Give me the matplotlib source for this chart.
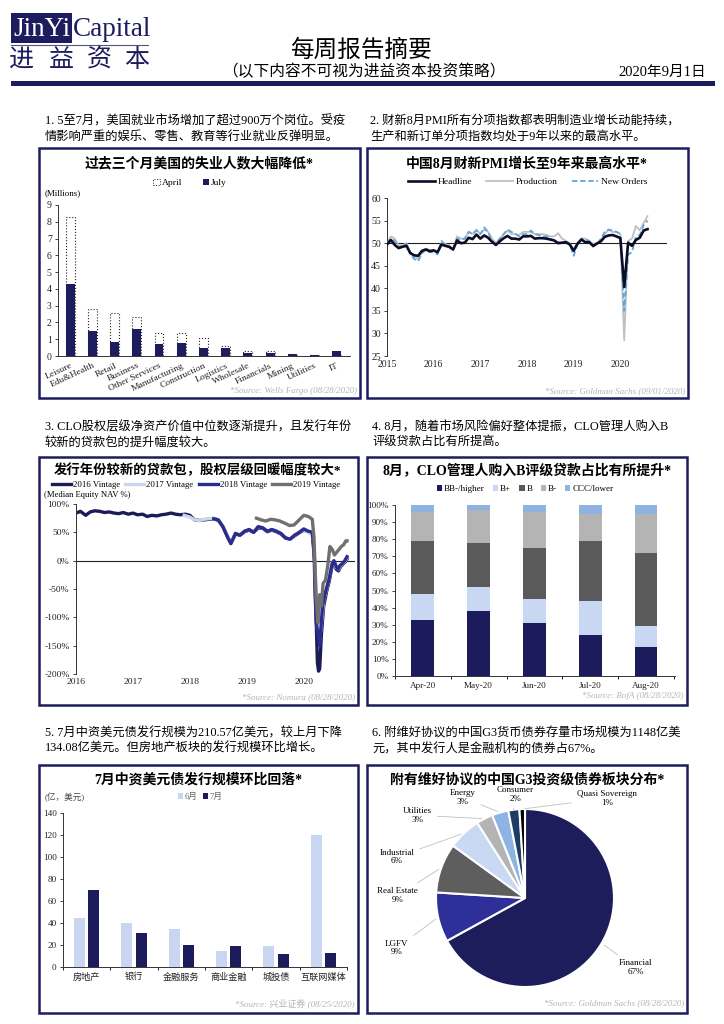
import matplotlib
matplotlib.use('Agg')
import matplotlib.pyplot as plt
from matplotlib.patches import Rectangle, Patch
from matplotlib.lines import Line2D
from matplotlib.ticker import FuncFormatter
import numpy as np

plt.rcParams['font.family'] = ['Liberation Serif', 'Noto Sans CJK SC']
plt.rcParams['axes.unicode_minus'] = False

# ---------------- DATA ----------------
jobs_cats = ['Leisure', 'Edu&Health', 'Retail', 'Business', 'Other Services', 'Manufacturing',
             'Construction', 'Logistics', 'Wholesale', 'Financials', 'Mining', 'Utilities', 'IT']
jobs_april = [8.3, 2.8, 2.55, 2.3, 1.4, 1.4, 1.05, 0.6, 0.3, 0.27, 0.1, 0.05, 0.1]
jobs_july = [4.3, 1.5, 0.85, 1.6, 0.7, 0.8, 0.5, 0.5, 0.2, 0.2, 0.1, 0.04, 0.3]

pmi_start_year = 2015
pmi_headline = [49.7, 50.7, 49.6, 48.9, 49.2, 49.4, 47.8, 47.3, 47.2, 48.3, 48.6, 48.2,
                48.4, 48.0, 49.7, 49.4, 49.2, 48.6, 50.6, 50.0, 50.1, 51.2, 50.9, 51.9,
                51.0, 51.7, 51.2, 50.3, 49.6, 50.4, 51.1, 51.6, 51.0, 51.0, 50.8, 51.5,
                51.5, 51.6, 51.0, 51.1, 51.1, 51.0, 50.8, 50.6, 50.0, 50.1, 50.2, 49.7,
                48.3, 49.9, 50.8, 50.2, 50.2, 49.4, 49.9, 50.4, 51.4, 51.7, 51.8, 51.5,
                51.1, 40.3, 50.1, 49.4, 50.7, 51.2, 52.8, 53.1]
pmi_production = [50.0, 51.5, 51.0, 49.5, 49.5, 50.0, 48.0, 47.0, 46.5, 48.0, 48.8, 48.5,
                  48.5, 47.8, 50.0, 49.8, 49.5, 48.5, 51.5, 51.0, 51.0, 52.5, 52.0, 53.0,
                  52.0, 53.0, 52.5, 51.0, 50.0, 51.0, 52.0, 52.8, 52.0, 52.0, 51.8, 52.5,
                  52.5, 52.5, 52.0, 52.0, 52.0, 51.8, 51.5, 51.5, 52.2, 51.0, 50.5, 50.0,
                  48.5, 50.0, 51.0, 51.0, 50.5, 49.8, 50.0, 50.5, 52.0, 53.0, 52.5, 52.5,
                  52.0, 28.5, 50.5, 51.0, 53.8, 52.8, 54.5, 56.0]
pmi_new_orders = [50.0, 51.0, 50.5, 49.0, 49.5, 49.8, 47.5, 46.5, 46.0, 47.8, 48.5, 48.0,
                  48.0, 47.5, 50.5, 49.5, 49.0, 48.5, 51.0, 50.8, 51.0, 52.5, 52.0, 52.8,
                  52.0, 53.5, 52.5, 50.5, 49.8, 51.0, 52.0, 53.0, 52.5, 52.0, 51.5, 52.0,
                  52.0, 52.8, 52.0, 51.8, 51.5, 51.5, 51.0, 50.5, 50.2, 50.0, 50.3, 49.8,
                  47.2, 49.8, 51.0, 50.8, 50.5, 49.2, 49.8, 51.0, 52.5, 53.0, 52.8, 52.5,
                  52.0, 35.0, 47.5, 48.0, 51.5, 51.8, 54.0, 55.0]

v2016_dates = [2016.00, 2016.08, 2016.17, 2016.25, 2016.33, 2016.42, 2016.50, 2016.58, 2016.67,
               2016.75, 2016.83, 2016.92, 2017.00, 2017.08, 2017.17, 2017.25, 2017.33, 2017.42,
               2017.50, 2017.58, 2017.67, 2017.75, 2017.83, 2017.92, 2018.00, 2018.08, 2018.17,
               2018.25, 2018.33, 2018.42, 2018.50, 2018.58, 2018.67, 2018.72, 2018.80, 2018.88,
               2018.96, 2019.04, 2019.12, 2019.20, 2019.28, 2019.36, 2019.44, 2019.52, 2019.60,
               2019.68, 2019.76, 2019.84, 2019.92, 2020.00, 2020.08, 2020.15, 2020.19, 2020.22,
               2020.24, 2020.26, 2020.28, 2020.31, 2020.35, 2020.40, 2020.45, 2020.50, 2020.53,
               2020.57, 2020.61, 2020.65, 2020.69, 2020.73, 2020.76]
v2016_nav = [84, 87, 80, 86, 88, 87, 85, 86, 84, 83, 85, 82, 84, 81, 82, 78, 80, 79,
             81, 82, 84, 82, 81, 82, 80, 72, 71, 72, 73, 74, 71, 60, 40, 31, 47, 45,
             51, 54, 50, 58, 57, 51, 54, 51, 47, 40, 38, 44, 49, 54, 51, 48, 0, -110,
             -180, -195, -190, -130, -80, -55, -35, -8, -3, -15, -18, -10, -6, -2, 3]
v2017_dates = [2017.90, 2018.00, 2018.08, 2018.17, 2018.25, 2018.33, 2018.42, 2018.50, 2018.58,
               2018.67, 2018.72, 2018.80, 2018.88, 2018.96, 2019.04, 2019.12, 2019.20, 2019.28,
               2019.36, 2019.44, 2019.52, 2019.60, 2019.68, 2019.76, 2019.84, 2019.92, 2020.00,
               2020.08, 2020.15, 2020.18, 2020.21, 2020.24, 2020.28, 2020.31, 2020.35, 2020.40,
               2020.45, 2020.50, 2020.53, 2020.57, 2020.61, 2020.65, 2020.69, 2020.73, 2020.76]
v2017_nav = [80, 77, 72, 71, 73, 74, 75, 72, 61, 41, 32, 49, 46, 52, 55, 51, 60, 58,
             52, 55, 52, 48, 40, 38, 45, 50, 55, 50, 45, 30, -40, -120, -140, -110, -70, -50,
             -30, -4, 0, -12, -15, -8, -5, 0, 5]
v2018_dates = [2018.42, 2018.50, 2018.58, 2018.67, 2018.72, 2018.80, 2018.88, 2018.96, 2019.04,
               2019.12, 2019.20, 2019.28, 2019.36, 2019.44, 2019.52, 2019.60, 2019.68, 2019.76,
               2019.84, 2019.92, 2020.00, 2020.08, 2020.15, 2020.18, 2020.20, 2020.22, 2020.25,
               2020.28, 2020.30, 2020.33, 2020.37, 2020.41, 2020.45, 2020.50, 2020.53, 2020.57,
               2020.60, 2020.64, 2020.68, 2020.72, 2020.76]
v2018_nav = [74, 72, 60, 40, 30, 48, 45, 52, 55, 50, 60, 58, 52, 55, 52, 48, 40, 38,
             45, 50, 56, 52, 50, 20, -60, -110, -130, -150, -120, -80, -60, -45, -30, -5, 0, -10,
             -15, -8, -5, 0, 7]
v2019_dates = [2019.17, 2019.25, 2019.33, 2019.42, 2019.50, 2019.58, 2019.67, 2019.75, 2019.83,
               2019.92, 2020.00, 2020.08, 2020.15, 2020.18, 2020.20, 2020.22, 2020.25, 2020.28,
               2020.31, 2020.34, 2020.38, 2020.42, 2020.46, 2020.50, 2020.54, 2020.58, 2020.62,
               2020.66, 2020.70, 2020.74, 2020.76]
v2019_nav = [75, 72, 70, 73, 72, 70, 66, 62, 63, 72, 80, 78, 73, 40, -20, -70, -110, -60,
             -80, -40, -35, -10, 25, 20, 10, 15, 20, 25, 28, 35, 35]

clo_months = ['Apr-20', 'May-20', 'Jun-20', 'Jul-20', 'Aug-20']
clo_series = ['BB-/higher', 'B+', 'B', 'B-', 'CCC/lower']
bb_higher = [33, 38, 31, 24, 17]
b_plus = [15, 14, 14, 20, 12]
b_mid = [31, 26, 30, 35, 43]
b_minus = [17, 19, 21, 16, 23]
ccc_lower = [4, 3, 4, 5, 5]

usd_cats = ['房地产', '银行', '金融服务', '商业金融', '城投债', '互联网媒体']
usd_june = [45, 40, 35, 15, 19, 120]
usd_july = [70, 31, 20, 19, 12, 13]

pie_labels = ['Financial', 'LGFV', 'Real Estate', 'Industrial', 'Utilities', 'Energy',
              'Consumer', 'Quasi Sovereign']
pie_vals = [67, 9, 9, 6, 3, 3, 2, 1]

# ---------------- LAYOUT HELPERS ----------------
W, H = 724, 1024
fig = plt.figure(figsize=(W / 100, H / 100), dpi=100)
fig.patch.set_facecolor('white')

NAVY = '#1c1c5e'
SRC = '#b5b5b5'


def ax_at(l, t, r, b):
    return fig.add_axes([l / W, 1 - b / H, (r - l) / W, (b - t) / H])


def T(x, y, s, **kw):
    kw.setdefault('va', 'center')
    return fig.text(x / W, 1 - y / H, s, **kw)


def box(l, t, r, b):
    fig.patches.append(Rectangle((l / W, 1 - b / H), (r - l) / W, (b - t) / H,
                                 transform=fig.transFigure, fill=False,
                                 edgecolor=NAVY, linewidth=1.8, zorder=0))


def style_axes(ax, fs=7):
    for s in ['top', 'right']:
        ax.spines[s].set_visible(False)
    for s in ['left', 'bottom']:
        ax.spines[s].set_linewidth(0.7)
        ax.spines[s].set_color('#333333')
    ax.tick_params(labelsize=fs, length=2.5, width=0.6, colors='#222222', pad=2)


# ---------------- HEADER ----------------
fig.patches.append(Rectangle((11 / W, 1 - 43 / H), 61 / W, 30 / H, transform=fig.transFigure,
                             facecolor=NAVY, edgecolor='none'))
T(41.5, 29, 'JinYi', ha='center', color='white', fontsize=19.5, family='Liberation Serif')
T(73, 29, 'Capital', ha='left', color=NAVY, fontsize=19.5, family='Liberation Serif')
fig.add_artist(Line2D([11 / W, 148 / W], [1 - 44.5 / H, 1 - 44.5 / H], color='#555577', lw=0.8))
for cx, ch in zip([22, 61, 99, 137], '进益资本'):
    T(cx, 60, ch, ha='center', color=NAVY, fontsize=18, family=['Noto Sans CJK SC'])
T(361, 51, '每周报告摘要', ha='center', fontsize=17)
T(364, 72, '（以下内容不可视为进益资本投资策略）', ha='center', fontsize=11.3)
T(706, 72, '2020年9月1日', ha='right', fontsize=10.5)
fig.patches.append(Rectangle((11 / W, 1 - 86 / H), 704 / W, 5 / H, transform=fig.transFigure,
                             facecolor=NAVY, edgecolor='none'))

# ---------------- PARAGRAPHS ----------------
PFS = 8.8
T(45, 121, '1. 5至7月，美国就业市场增加了超过900万个岗位。受疫', fontsize=PFS)
T(45, 137, '情影响严重的娱乐、零售、教育等行业就业反弹明显。', fontsize=PFS)
T(370, 121, '2. 财新8月PMI所有分项指数都表明制造业增长动能持续，', fontsize=PFS)
T(370, 137, '生产和新订单分项指数均处于9年以来的最高水平。', fontsize=PFS)
T(45, 427, '3. CLO股权层级净资产价值中位数逐渐提升，且发行年份', fontsize=PFS)
T(45, 443, '较新的贷款包的提升幅度较大。', fontsize=PFS)
T(372, 427, '4. 8月，随着市场风险偏好整体提振，CLO管理人购入B', fontsize=PFS)
T(372, 443, '评级贷款占比有所提高。', fontsize=PFS)
T(45, 733, '5. 7月中资美元债发行规模为210.57亿美元，较上月下降', fontsize=PFS)
T(45, 749, '134.08亿美元。但房地产板块的发行规模环比增长。', fontsize=PFS)
T(372, 733, '6. 附维好协议的中国G3货币债券存量市场规模为1148亿美', fontsize=PFS)
T(372, 749, '元，其中发行人是金融机构的债券占67%。', fontsize=PFS)

# panel boxes
box(39, 148, 360, 398)
box(367, 148, 688, 398)
box(39, 457, 358, 705)
box(367, 457, 687, 705)
box(39, 765, 358, 1013)
box(367, 765, 687, 1013)

TFS = 10
T(199, 164, '过去三个月美国的失业人数大幅降低*', ha='center', fontsize=TFS, fontweight='bold')
T(527, 164, '中国8月财新PMI增长至9年来最高水平*', ha='center', fontsize=TFS, fontweight='bold')
T(198, 470, '发行年份较新的贷款包，股权层级回暖幅度较大*', ha='center', fontsize=9.6, fontweight='bold')
T(527, 470, '8月，CLO管理人购入B评级贷款占比有所提升*', ha='center', fontsize=TFS, fontweight='bold')
T(198, 780, '7月中资美元债发行规模环比回落*', ha='center', fontsize=TFS, fontweight='bold')
T(527, 780, '附有维好协议的中国G3投资级债券板块分布*', ha='center', fontsize=TFS, fontweight='bold')

SFS = 6.5
T(357, 391, '*Source: Wells Fargo (08/28/2020)', ha='right', fontsize=SFS, color=SRC, style='italic')
T(685, 391, '*Source: Goldman Sachs (09/01/2020)', ha='right', fontsize=SFS, color=SRC, style='italic')
T(355, 697, '*Source: Nomura (08/28/2020)', ha='right', fontsize=SFS, color=SRC, style='italic')
T(684, 696, '*Source: BofA (08/28/2020)', ha='right', fontsize=SFS, color=SRC, style='italic')
T(355, 1003, '*Source: 兴业证券 (08/25/2020)', ha='right', fontsize=SFS, color=SRC, style='italic')
T(684, 1003, '*Source: Goldman Sachs (08/28/2020)', ha='right', fontsize=SFS, color=SRC, style='italic')

# ---------------- PANEL 1: job bars ----------------
ax1 = ax_at(58, 205, 350, 356)
x1 = np.arange(len(jobs_cats))
ax1.bar(x1, jobs_april, width=0.4, facecolor='white', edgecolor='#222222', linestyle=':',
        linewidth=0.8, label='April')
ax1.bar(x1, jobs_july, width=0.4, color=NAVY, label='July')
ax1.set_ylim(0, 9)
ax1.set_xlim(-0.55, 12.6)
ax1.set_yticks(range(0, 10))
ax1.set_xticks(x1)
ax1.set_xticklabels(jobs_cats, rotation=25, ha='right', rotation_mode='anchor')
style_axes(ax1)
ax1.tick_params(axis='x', length=0, pad=4, labelsize=6.8)
T(45, 193, '(Millions)', fontsize=6.5)
ax1.legend(handles=[Patch(facecolor='white', edgecolor='#222222', linestyle=':', lw=0.7),
                    Patch(facecolor=NAVY)], labels=['April', 'July'], ncol=2, frameon=False,
           fontsize=6.8, handlelength=0.7, handleheight=0.7, handletextpad=0.2,
           columnspacing=2.2, loc='center', bbox_to_anchor=(190 / W, 1 - 183 / H),
           bbox_transform=fig.transFigure)

# ---------------- PANEL 2: PMI ----------------
ax2 = ax_at(387, 198, 667, 356)
xm = pmi_start_year + np.arange(len(pmi_headline)) / 12
ax2.axhline(50, color='#222222', lw=0.8, zorder=1)
ax2.plot(xm, pmi_production, color='#c0c0c0', lw=1.3, label='Production', zorder=2)
ax2.plot(xm, pmi_new_orders, color='#5fa6dc', lw=1.3, ls=(0, (3, 1.5)), label='New Orders', zorder=3)
ax2.plot(xm, pmi_headline, color='#0c0c26', lw=1.9, label='Headline', zorder=4)
ax2.set_xlim(2015, 2021)
ax2.set_ylim(25, 60)
ax2.set_yticks(range(25, 61, 5))
ax2.set_xticks(range(2015, 2021))
style_axes(ax2)
ax2.spines['bottom'].set_visible(False)
ax2.tick_params(axis='x', length=0, pad=3)
h2, l2 = ax2.get_legend_handles_labels()
order = [2, 0, 1]
ax2.legend([h2[i] for i in order], [l2[i] for i in order], ncol=3, frameon=False, fontsize=6.8,
           handlelength=2.8, handletextpad=0.3, columnspacing=1.5, loc='center',
           bbox_to_anchor=(528 / W, 1 - 182 / H), bbox_transform=fig.transFigure)

# ---------------- PANEL 3: CLO NAV ----------------
ax3 = ax_at(76, 504, 355, 674)
ax3.axhline(0, color='#222222', lw=0.8, zorder=1)
ax3.plot(v2016_dates, v2016_nav, color='#1b1b55', lw=2.4, label='2016 Vintage', zorder=2)
ax3.plot(v2017_dates, v2017_nav, color='#c8d6ee', lw=2.4, label='2017 Vintage', zorder=3)
ax3.plot(v2018_dates, v2018_nav, color='#2c2c8e', lw=2.4, label='2018 Vintage', zorder=4)
ax3.plot(v2019_dates, v2019_nav, color='#707070', lw=2.4, label='2019 Vintage', zorder=5)
ax3.set_xlim(2016, 2020.9)
ax3.set_ylim(-200, 100)
ax3.set_yticks(range(-200, 101, 50))
ax3.yaxis.set_major_formatter(FuncFormatter(lambda v, p: f'{int(v)}%'))
ax3.set_xticks(range(2016, 2021))
style_axes(ax3, fs=6.8)
ax3.spines['bottom'].set_visible(False)
ax3.tick_params(axis='x', length=0, pad=3)
T(44, 495, '(Median Equity NAV %)', fontsize=6.2)
ax3.legend(ncol=4, frameon=False, fontsize=6.3, handlelength=2.2, handletextpad=0.2,
           columnspacing=0.6, loc='center', bbox_to_anchor=(196 / W, 1 - 485 / H),
           bbox_transform=fig.transFigure)

# ---------------- PANEL 4: stacked bars ----------------
ax4 = ax_at(395, 505, 675, 676)
x4 = np.arange(len(clo_months))
stack_colors = ['#1c1c5c', '#c9d8f2', '#5a5a5a', '#b4b4b4', '#8fb3e0']
bottom = np.zeros(len(clo_months))
for name, vals, c in zip(clo_series, [bb_higher, b_plus, b_mid, b_minus, ccc_lower], stack_colors):
    ax4.bar(x4, vals, bottom=bottom, width=0.41, color=c, label=name)
    bottom += np.array(vals)
ax4.set_xlim(-0.48, 4.52)
ax4.set_ylim(0, 100)
ax4.set_yticks(range(0, 101, 10))
ax4.yaxis.set_major_formatter(FuncFormatter(lambda v, p: f'{int(v)}%'))
ax4.set_xticks(x4)
ax4.set_xticklabels(clo_months)
ax4.set_xticks(np.arange(-0.5, 4.6, 1), minor=True)
style_axes(ax4, fs=6.6)
ax4.tick_params(axis='x', which='major', length=0, pad=4)
ax4.tick_params(axis='x', which='minor', length=2.5, width=0.6)
ax4.legend(ncol=5, frameon=False, fontsize=6.5, handlelength=0.6, handleheight=0.6,
           handletextpad=0.2, columnspacing=0.9, loc='center',
           bbox_to_anchor=(525 / W, 1 - 489 / H), bbox_transform=fig.transFigure)

# ---------------- PANEL 5: USD bonds ----------------
ax5 = ax_at(63, 813, 347, 967)
x5 = np.arange(len(usd_cats))
ax5.bar(x5 - 0.15, usd_june, width=0.23, color='#c8d6f2', label='6月')
ax5.bar(x5 + 0.15, usd_july, width=0.23, color='#1c1c5c', label='7月')
ax5.set_xlim(-0.47, 5.5)
ax5.set_ylim(0, 140)
ax5.set_yticks(range(0, 141, 20))
ax5.set_xticks(x5)
ax5.set_xticklabels(usd_cats)
ax5.set_xticks(np.arange(-0.5, 5.6, 1), minor=True)
style_axes(ax5, fs=6.6)
ax5.tick_params(axis='x', which='major', length=0, pad=4)
ax5.tick_params(axis='x', which='minor', length=2.5, width=0.6)
T(45, 797, '(亿，美元)', fontsize=6.2, color='#444444')
ax5.legend(ncol=2, frameon=False, fontsize=6.2, handlelength=0.6, handleheight=0.6,
           handletextpad=0.2, columnspacing=0.6, loc='center', labelcolor='#666666',
           bbox_to_anchor=(200 / W, 1 - 797 / H), bbox_transform=fig.transFigure)

# ---------------- PANEL 6: pie ----------------
ax6 = ax_at(436, 809, 614, 987)
pie_colors = ['#1d1d5c', '#2f2f99', '#5e5e5e', '#c9d8f3', '#b4b4b4', '#8db4e2', '#1f3c63', '#000000']
wedges, _ = ax6.pie(pie_vals, colors=pie_colors, startangle=90, counterclock=False,
                    radius=1, wedgeprops=dict(edgecolor='white', linewidth=1.5))
ax6.set_xlim(-1, 1)
ax6.set_ylim(-1, 1)
ax6.set_aspect('equal')
ax6.axis('off')
label_pos = [(1.24, -0.78), (-1.44, -0.56), (-1.43, 0.03), (-1.44, 0.46), (-1.21, 0.93),
             (-0.70, 1.13), (-0.11, 1.16), (0.92, 1.12)]
for w, lab, v, (tx, ty) in zip(wedges, pie_labels, pie_vals, label_pos):
    ang = np.deg2rad((w.theta1 + w.theta2) / 2)
    ax6.annotate(f'{lab}\n{v}%', xy=(np.cos(ang), np.sin(ang)), xytext=(tx, ty),
                 ha='center', va='center', fontsize=6.5, linespacing=1.1,
                 arrowprops=dict(arrowstyle='-', color='#c0c0c0', lw=0.6),
                 annotation_clip=False)

fig.savefig('out.png', dpi=100)
